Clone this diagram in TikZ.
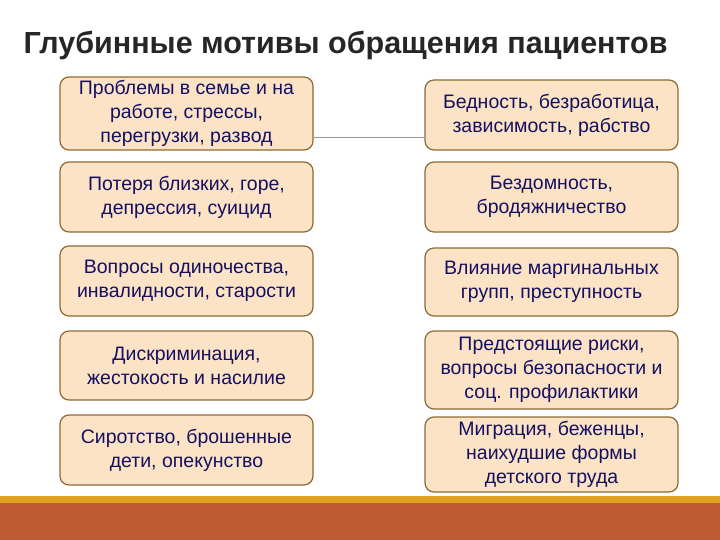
\documentclass[tikz,border=0pt]{standalone}
\usepackage{fontspec}
\setmainfont{Liberation Sans}
\begin{document}
\begin{tikzpicture}[x=1pt,y=-1pt,
  box/.style={draw=boxline,line width=1.2pt,fill=boxfill,rounded corners=9pt,minimum width=253pt,align=center,font=\fontsize{19.5}{24}\selectfont,text=txt,inner sep=0pt},
  lk/.style={draw=gray!80,line width=0.7pt}]
\definecolor{boxline}{HTML}{8E6A35}
\definecolor{boxfill}{HTML}{FCE3C6}
\definecolor{txt}{HTML}{141060}
\definecolor{bar}{HTML}{BD5A2F}
\definecolor{gold}{HTML}{E0A020}
\useasboundingbox (0,0) rectangle (720,540);
\fill[white] (0,0) rectangle (720,540);
\fill[gold] (0,496) rectangle (720,503);
\fill[bar] (0,503) rectangle (720,540);
\node[anchor=west,font=\bfseries\fontsize{30.5}{34}\selectfont,text=black!85] (t) at (20,45) {Глубинные мотивы обращения пациентов};
\node[box,minimum height=73pt] (l1) at (186.5,113.5) {Проблемы в семье и на\\работе, стрессы,\\перегрузки, развод};
\node[box,minimum height=70pt] (l2) at (186.5,197) {Потеря близких, горе,\\депрессия, суицид};
\node[box,minimum height=70pt] (l3) at (186.5,281) {Вопросы одиночества,\\инвалидности, старости};
\node[box,minimum height=69pt] (l4) at (186.5,365.5) {Дискриминация,\\жестокость и насилие};
\node[box,minimum height=70pt] (l5) at (186.5,450) {Сиротство, брошенные\\дети, опекунство};
\node[box,minimum height=70pt] (r1) at (551.5,115) {Бедность, безработица,\\зависимость, рабство};
\node[box,minimum height=70pt] (r2) at (551.5,197) {Бездомность,\\бродяжничество};
\node[box,minimum height=68pt] (r3) at (551.5,282) {Влияние маргинальных\\групп, преступность};
\node[box,minimum height=78pt] (r4) at (551.5,370) {Предстоящие риски,\\вопросы безопасности и\\соц. профилактики};
\node[box,minimum height=75pt] (r5) at (551.5,454.5) {Миграция, беженцы,\\наихудшие формы\\детского труда};
\draw[lk] (l1.east |- 0,137) -- (r1.west |- 0,137);
\end{tikzpicture}
\end{document}
